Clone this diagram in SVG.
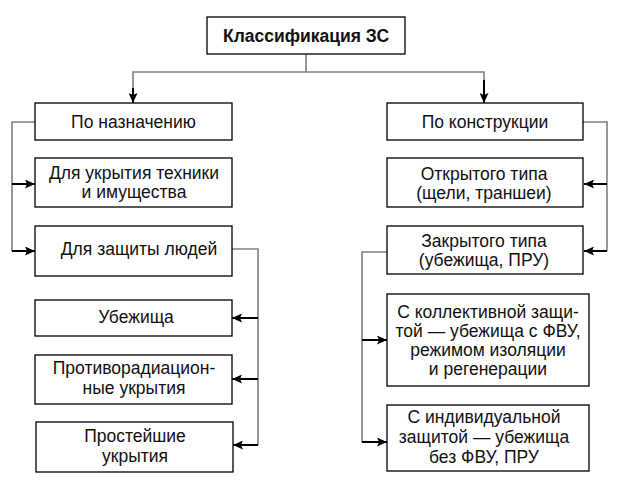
<svg xmlns="http://www.w3.org/2000/svg" width="620" height="488" viewBox="0 0 620 488">
<defs>
<style>
.box{fill:#fff;stroke:#000;stroke-width:1.3}
.t{font-family:"Liberation Sans",Arial,sans-serif;font-size:17.5px;fill:#111;text-anchor:middle}
.tb{font-weight:bold;font-size:17.5px}
.ln{fill:none;stroke:#808080;stroke-width:1.6}
.ar{fill:none;stroke:#000;stroke-width:2;marker-end:url(#arr)}
</style>
<marker id="arr" markerUnits="userSpaceOnUse" markerWidth="11" markerHeight="9" refX="10" refY="4.5" orient="auto">
<path d="M0,0 L10,4.5 L0,9 L2,4.5 z" fill="#000"/>
</marker>
</defs>
<rect width="620" height="488" fill="#fff"/>
<g id="connectors">
<polyline class="ln" points="306,54 306,72 133,72 133,92"/>
<polyline class="ln" points="306,72 484,72 484,92"/>
<line class="ar" x1="133" y1="88" x2="133" y2="103"/>
<line class="ar" x1="484" y1="80" x2="484" y2="103"/>
<polyline class="ln" points="35,122 12,122 12,251"/>
<line class="ar" x1="12" y1="184" x2="35" y2="184"/>
<line class="ar" x1="12" y1="251" x2="35" y2="251"/>
<polyline class="ln" points="583,122 607,122 607,251"/>
<line class="ar" x1="607" y1="184" x2="584" y2="184"/>
<line class="ar" x1="607" y1="251" x2="584" y2="251"/>
<polyline class="ln" points="232,249 258,249 258,445"/>
<line class="ar" x1="258" y1="318" x2="232" y2="318"/>
<line class="ar" x1="258" y1="379" x2="232" y2="379"/>
<line class="ar" x1="258" y1="445" x2="233" y2="445"/>
<polyline class="ln" points="387,252 362,252 362,442"/>
<line class="ar" x1="362" y1="340" x2="387" y2="340"/>
<line class="ar" x1="362" y1="442" x2="387" y2="442"/>
</g>
<g id="root">
<rect class="box" x="207" y="17" width="198" height="37"/>
<text class="t tb" x="306" y="42">Классификация ЗС</text>
</g>
<g id="naznach">
<rect class="box" x="35" y="103" width="197" height="37"/>
<text class="t" x="133.5" y="128">По назначению</text>
</g>
<g id="konstr">
<rect class="box" x="387" y="103" width="196" height="37"/>
<text class="t" x="485" y="128">По конструкции</text>
</g>
<g id="tekhniki">
<rect class="box" x="35" y="158" width="197" height="49"/>
<text class="t" x="134" y="179">Для укрытия техники</text>
<text class="t" x="134" y="198">и имущества</text>
</g>
<g id="lyudei">
<rect class="box" x="35" y="226" width="197" height="50"/>
<text class="t" x="139" y="255">Для защиты людей</text>
</g>
<g id="ubezhishcha">
<rect class="box" x="35" y="300" width="197" height="36"/>
<text class="t" x="136" y="323">Убежища</text>
</g>
<g id="pru">
<rect class="box" x="35" y="355" width="197" height="49"/>
<text class="t" x="134" y="374">Противорадиацион-</text>
<text class="t" x="134" y="394">ные укрытия</text>
</g>
<g id="prosteyshie">
<rect class="box" x="36" y="422" width="197" height="50"/>
<text class="t" x="135" y="442">Простейшие</text>
<text class="t" x="135" y="462">укрытия</text>
</g>
<g id="otkrytogo">
<rect class="box" x="387" y="158" width="196" height="49"/>
<text class="t" x="484" y="180">Открытого типа</text>
<text class="t" x="484" y="199">(щели, траншеи)</text>
</g>
<g id="zakrytogo">
<rect class="box" x="387" y="226" width="196" height="48"/>
<text class="t" x="484" y="247">Закрытого типа</text>
<text class="t" x="484" y="266">(убежища, ПРУ)</text>
</g>
<g id="kollektiv">
<rect class="box" x="387" y="294" width="202" height="92"/>
<text class="t" x="488" y="318">С коллективной защи-</text>
<text class="t" x="488" y="337">той — убежища с ФВУ,</text>
<text class="t" x="488" y="356">режимом изоляции</text>
<text class="t" x="488" y="375">и регенерации</text>
</g>
<g id="individ">
<rect class="box" x="387" y="405" width="202" height="66"/>
<text class="t" x="484" y="423">С индивидуальной</text>
<text class="t" x="484" y="443">защитой — убежища</text>
<text class="t" x="484" y="463">без ФВУ, ПРУ</text>
</g>
</svg>
